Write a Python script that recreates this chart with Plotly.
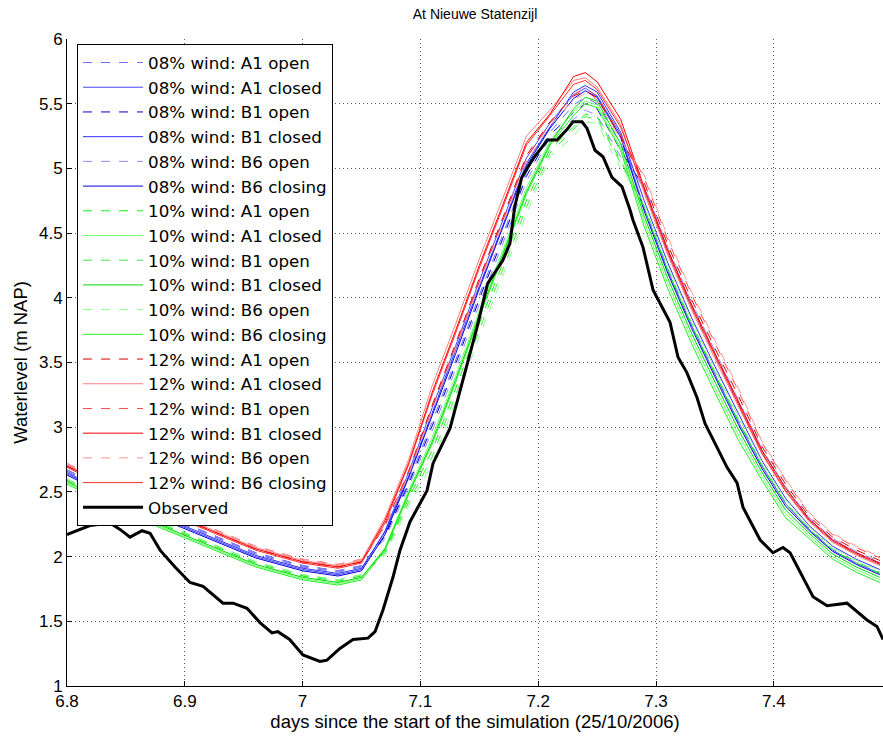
import plotly.graph_objects as go

# ---- data ----
sim_days = [6.80, 6.84, 6.88, 6.92, 6.96, 7.00, 7.03, 7.05, 7.07, 7.09, 7.11, 7.13, 7.15, 7.17, 7.19,
            7.21, 7.23, 7.24, 7.25, 7.27, 7.29, 7.31, 7.33, 7.35, 7.37, 7.39, 7.41, 7.43, 7.45, 7.47, 7.49]

w08_A1_open = [2.66, 2.48, 2.32, 2.17, 2.02, 1.92, 1.88, 1.92, 2.16, 2.58, 3.04, 3.52, 4.02, 4.49, 4.97,
               5.28, 5.49, 5.55, 5.50, 5.19, 4.83, 4.35, 3.93, 3.55, 3.18, 2.80, 2.51, 2.28, 2.12, 2.02, 1.94]
w08_A1_closed = [2.64, 2.46, 2.30, 2.15, 2.00, 1.90, 1.86, 1.90, 2.20, 2.65, 3.15, 3.63, 4.13, 4.60, 5.08,
                 5.35, 5.57, 5.62, 5.56, 5.26, 4.69, 4.21, 3.79, 3.41, 3.04, 2.70, 2.41, 2.21, 2.05, 1.95, 1.87]
w08_B1_open = [2.67, 2.49, 2.33, 2.18, 2.03, 1.93, 1.89, 1.93, 2.16, 2.56, 3.01, 3.49, 3.99, 4.46, 4.94,
               5.26, 5.43, 5.50, 5.46, 5.14, 4.85, 4.37, 3.95, 3.57, 3.20, 2.82, 2.53, 2.29, 2.13, 2.03, 1.95]
w08_B1_closed = [2.65, 2.47, 2.31, 2.16, 2.01, 1.91, 1.87, 1.91, 2.19, 2.62, 3.11, 3.59, 4.09, 4.56, 5.04,
                 5.32, 5.59, 5.64, 5.59, 5.28, 4.75, 4.27, 3.85, 3.47, 3.10, 2.74, 2.45, 2.24, 2.08, 1.98, 1.90]
w08_B6_open = [2.67, 2.49, 2.33, 2.18, 2.03, 1.93, 1.89, 1.93, 2.14, 2.54, 2.97, 3.45, 3.95, 4.42, 4.90,
               5.24, 5.38, 5.45, 5.41, 5.09, 4.87, 4.39, 3.97, 3.59, 3.22, 2.83, 2.54, 2.30, 2.14, 2.04, 1.96]
w08_B6_closing = [2.63, 2.45, 2.29, 2.14, 1.99, 1.89, 1.85, 1.89, 2.17, 2.61, 3.09, 3.57, 4.07, 4.54, 5.02,
                  5.31, 5.54, 5.60, 5.55, 5.24, 4.67, 4.19, 3.77, 3.39, 3.02, 2.68, 2.39, 2.20, 2.04, 1.94, 1.86]

w10_A1_open = [2.59, 2.41, 2.25, 2.10, 1.95, 1.85, 1.81, 1.85, 2.04, 2.45, 2.82, 3.30, 3.80, 4.27, 4.75,
               5.15, 5.32, 5.42, 5.40, 5.06, 4.69, 4.21, 3.79, 3.41, 3.04, 2.70, 2.41, 2.21, 2.05, 1.95, 1.87]
w10_A1_closed = [2.57, 2.39, 2.23, 2.08, 1.93, 1.83, 1.79, 1.83, 2.07, 2.51, 2.92, 3.40, 3.90, 4.37, 4.85,
                 5.21, 5.44, 5.52, 5.49, 5.16, 4.59, 4.11, 3.69, 3.31, 2.94, 2.62, 2.33, 2.16, 2.00, 1.90, 1.82]
w10_B1_open = [2.60, 2.42, 2.26, 2.11, 1.96, 1.86, 1.82, 1.86, 2.03, 2.42, 2.77, 3.25, 3.75, 4.22, 4.70,
               5.12, 5.30, 5.40, 5.38, 5.04, 4.71, 4.23, 3.81, 3.43, 3.06, 2.71, 2.42, 2.22, 2.06, 1.96, 1.88]
w10_B1_closed = [2.58, 2.40, 2.24, 2.09, 1.94, 1.84, 1.80, 1.84, 2.06, 2.49, 2.89, 3.37, 3.87, 4.34, 4.82,
                 5.19, 5.46, 5.55, 5.52, 5.19, 4.63, 4.15, 3.73, 3.35, 2.98, 2.65, 2.36, 2.18, 2.02, 1.92, 1.84]
w10_B6_open = [2.60, 2.42, 2.26, 2.11, 1.96, 1.86, 1.82, 1.86, 2.01, 2.39, 2.72, 3.20, 3.70, 4.17, 4.65,
               5.09, 5.25, 5.36, 5.35, 5.00, 4.73, 4.25, 3.83, 3.45, 3.08, 2.73, 2.44, 2.23, 2.07, 1.97, 1.89]
w10_B6_closing = [2.56, 2.38, 2.22, 2.07, 1.92, 1.82, 1.78, 1.82, 2.05, 2.48, 2.87, 3.35, 3.85, 4.32, 4.80,
                  5.18, 5.41, 5.50, 5.47, 5.14, 4.55, 4.07, 3.65, 3.27, 2.90, 2.59, 2.30, 2.14, 1.98, 1.88, 1.80]

w12_A1_open = [2.70, 2.52, 2.36, 2.21, 2.06, 1.96, 1.92, 1.96, 2.24, 2.66, 3.17, 3.65, 4.15, 4.62, 5.10,
               5.36, 5.56, 5.60, 5.54, 5.24, 4.89, 4.41, 3.99, 3.61, 3.24, 2.85, 2.56, 2.31, 2.15, 2.05, 1.97]
w12_A1_closed = [2.71, 2.53, 2.37, 2.22, 2.07, 1.97, 1.93, 1.97, 2.30, 2.75, 3.32, 3.80, 4.30, 4.77, 5.25,
                 5.45, 5.68, 5.70, 5.63, 5.34, 4.81, 4.33, 3.91, 3.53, 3.16, 2.79, 2.50, 2.27, 2.11, 2.01, 1.93]
w12_B1_open = [2.72, 2.54, 2.38, 2.23, 2.08, 1.98, 1.94, 1.98, 2.24, 2.65, 3.15, 3.63, 4.13, 4.60, 5.08,
               5.35, 5.57, 5.62, 5.56, 5.26, 4.93, 4.45, 4.03, 3.65, 3.28, 2.88, 2.59, 2.33, 2.17, 2.07, 1.99]
w12_B1_closed = [2.70, 2.52, 2.36, 2.21, 2.06, 1.96, 1.92, 1.96, 2.28, 2.72, 3.27, 3.75, 4.25, 4.72, 5.20,
                 5.42, 5.71, 5.74, 5.67, 5.38, 4.85, 4.37, 3.95, 3.57, 3.20, 2.82, 2.53, 2.29, 2.13, 2.03, 1.95]
w12_B6_open = [2.72, 2.54, 2.38, 2.23, 2.08, 1.98, 1.94, 1.98, 2.23, 2.63, 3.12, 3.60, 4.10, 4.57, 5.05,
               5.33, 5.53, 5.58, 5.53, 5.22, 4.95, 4.47, 4.05, 3.67, 3.30, 2.89, 2.60, 2.34, 2.18, 2.08, 2.00]
w12_B6_closing = [2.69, 2.51, 2.35, 2.20, 2.05, 1.95, 1.91, 1.95, 2.26, 2.71, 3.25, 3.73, 4.23, 4.70, 5.18,
                  5.41, 5.65, 5.68, 5.61, 5.32, 4.83, 4.35, 3.93, 3.55, 3.18, 2.80, 2.51, 2.28, 2.12, 2.02, 1.94]

obs_days = [6.800, 6.8025, 6.8195, 6.8365, 6.845, 6.8535, 6.8637, 6.8705, 6.879, 6.8917, 6.9044, 6.9155,
            6.9324, 6.941, 6.9528, 6.9638, 6.974, 6.979, 6.989, 7.0003, 7.0148, 7.0207, 7.0317, 7.0428,
            7.0555, 7.0615, 7.0683, 7.0767, 7.0827, 7.0912, 7.1056, 7.1107, 7.1251, 7.132, 7.148, 7.157,
            7.170, 7.176, 7.180, 7.186, 7.196, 7.208, 7.216, 7.2244, 7.2295, 7.2372, 7.2414, 7.2482,
            7.255, 7.2626, 7.2711, 7.2779, 7.2805, 7.2890, 7.2975, 7.3119, 7.3187, 7.3263, 7.3348,
            7.3416, 7.3518, 7.3603, 7.3688, 7.3739, 7.3883, 7.3993, 7.4078, 7.4138, 7.4333, 7.4452,
            7.4621, 7.4791, 7.4876, 7.4927]
obs_level = [2.17, 2.18, 2.24, 2.26, 2.21, 2.15, 2.20, 2.18, 2.05, 1.92, 1.80, 1.77,
             1.64, 1.64, 1.60, 1.49, 1.41, 1.42, 1.36, 1.24, 1.19, 1.20, 1.29, 1.36,
             1.37, 1.42, 1.59, 1.84, 2.05, 2.27, 2.51, 2.72, 2.99, 3.23, 3.77, 4.11,
             4.29, 4.42, 4.70, 4.93, 5.08, 5.22, 5.22, 5.30, 5.36, 5.36, 5.31, 5.14,
             5.09, 4.93, 4.86, 4.68, 4.60, 4.39, 4.06, 3.81, 3.54, 3.42, 3.23,
             3.03, 2.85, 2.69, 2.57, 2.38, 2.13, 2.03, 2.07, 2.03, 1.69, 1.62,
             1.64, 1.51, 1.46, 1.36]

series_names = ["08% wind: A1 open", "08% wind: A1 closed", "08% wind: B1 open", "08% wind: B1 closed",
                "08% wind: B6 open", "08% wind: B6 closing",
                "10% wind: A1 open", "10% wind: A1 closed", "10% wind: B1 open", "10% wind: B1 closed",
                "10% wind: B6 open", "10% wind: B6 closing",
                "12% wind: A1 open", "12% wind: A1 closed", "12% wind: B1 open", "12% wind: B1 closed",
                "12% wind: B6 open", "12% wind: B6 closing"]
series_values = [w08_A1_open, w08_A1_closed, w08_B1_open, w08_B1_closed, w08_B6_open, w08_B6_closing,
                 w10_A1_open, w10_A1_closed, w10_B1_open, w10_B1_closed, w10_B6_open, w10_B6_closing,
                 w12_A1_open, w12_A1_closed, w12_B1_open, w12_B1_closed, w12_B6_open, w12_B6_closing]
series_colors = ["#6a6aff", "#4646ff", "#0000c8", "#3030ff", "#8a8aff", "#0000e0",
                 "#10f010", "#70ff70", "#40e840", "#00d800", "#88ff88", "#20f020",
                 "#d80000", "#ff7e7e", "#ff4a4a", "#ff0000", "#ff9494", "#ff2a2a"]
series_dash = ["dash", "solid", "dash", "solid", "dash", "solid"] * 3

fig = go.Figure()
for name, vals, col, dash in zip(series_names, series_values, series_colors, series_dash):
    fig.add_trace(go.Scatter(x=sim_days, y=vals, mode="lines", name=name,
                             line=dict(color=col, width=1, dash=dash)))
fig.add_trace(go.Scatter(x=obs_days, y=obs_level, mode="lines", name="Observed",
                         line=dict(color="black", width=3)))

font_family = "Liberation Sans, Arial, sans-serif"
grid_dash = "1px,3px"
fig.update_layout(
    width=883, height=736,
    margin=dict(l=67, r=0, t=39, b=50),
    paper_bgcolor="white", plot_bgcolor="white",
    font=dict(family=font_family, size=17, color="black"),
    title=dict(text="At Nieuwe Statenzijl", x=0.538, xanchor="center", y=0.981, yanchor="middle",
               font=dict(size=14, family=font_family)),
    showlegend=True,
    legend=dict(x=0.0123, y=0.992, xanchor="left", yanchor="top",
                bgcolor="white", bordercolor="black", borderwidth=1,
                font=dict(size=16.7, family="DejaVu Sans, sans-serif"), tracegroupgap=0,
                itemwidth=60),
)
fig.update_xaxes(range=[6.8, 7.4927], tickvals=[6.8, 6.9, 7.0, 7.1, 7.2, 7.3, 7.4],
                 ticktext=["6.8", "6.9", "7", "7.1", "7.2", "7.3", "7.4"],
                 showline=True, linecolor="black", linewidth=1, ticks="inside", ticklen=5,
                 tickcolor="black", showgrid=True, gridcolor="#555", griddash=grid_dash, gridwidth=1,
                 zeroline=False, tickfont=dict(size=17),
                 title=dict(text="days since the start of the simulation (25/10/2006)",
                            font=dict(size=18.5), standoff=2))
fig.update_yaxes(range=[1, 6], dtick=0.5, tick0=1,
                 showline=True, linecolor="black", linewidth=1, ticks="inside", ticklen=5,
                 tickcolor="black", showgrid=True, gridcolor="#555", griddash=grid_dash, gridwidth=1,
                 zeroline=False, tickfont=dict(size=17),
                 title=dict(text="Waterlevel (m NAP)", font=dict(size=18.5), standoff=6))

# remove the browser's default 8px body margin so the figure fills the window exactly
fig.write_html("out.html", config={"displayModeBar": False},
               post_script="document.body.style.margin='0px';")
